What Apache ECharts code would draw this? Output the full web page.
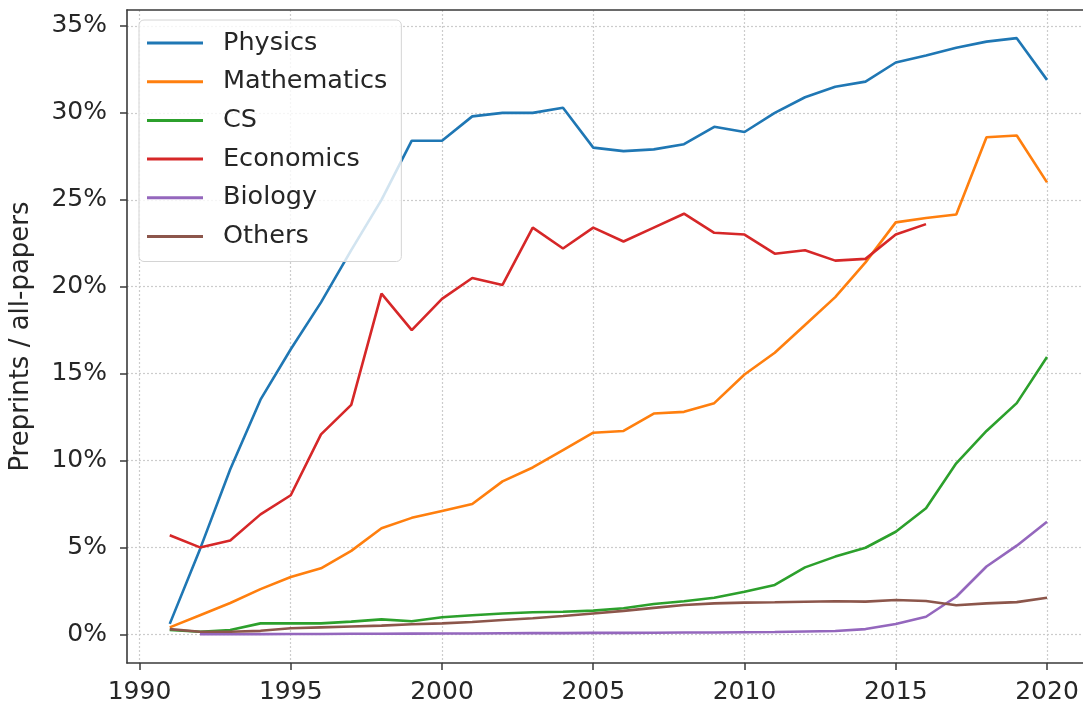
<!DOCTYPE html>
<html>
<head>
<meta charset="utf-8">
<script src="https://cdn.jsdelivr.net/npm/echarts@6/dist/echarts.min.js"></script>
<style>
  html, body { margin: 0; padding: 0; background: #fff; }
  #chart { width: 1083px; height: 706px; }
</style>
</head>
<body>
<div id="chart"></div>
<script>
// years 1991..2020
var years = [];
for (var y = 1991; y <= 2020; y++) years.push(y);

// share of preprints, percent
var physics = [0.6, 4.9, 9.5, 13.5, 16.4, 19.1, 22.1, 25.0, 28.4, 28.4, 29.8, 30.0, 30.0, 30.3, 28.0, 27.8, 27.9, 28.2, 29.2, 28.9, 30.0, 30.9, 31.5, 31.8, 32.9, 33.3, 33.75, 34.1, 34.3, 31.9];
var mathematics = [0.4, 1.1, 1.8, 2.6, 3.3, 3.8, 4.8, 6.1, 6.7, 7.1, 7.5, 8.8, 9.6, 10.6, 11.6, 11.7, 12.7, 12.8, 13.3, 14.95, 16.2, 17.8, 19.4, 21.4, 23.7, 23.95, 24.15, 28.6, 28.7, 26.0];
var cs = [0.25, 0.15, 0.25, 0.63, 0.63, 0.63, 0.73, 0.86, 0.75, 0.98, 1.1, 1.2, 1.27, 1.3, 1.36, 1.5, 1.74, 1.9, 2.1, 2.45, 2.84, 3.85, 4.47, 4.98, 5.9, 7.25, 9.84, 11.7, 13.3, 15.95];
var economics = [5.7, 5.0, 5.4, 6.9, 8.0, 11.5, 13.2, 19.6, 17.5, 19.3, 20.5, 20.1, 23.4, 22.2, 23.4, 22.6, 23.4, 24.2, 23.1, 23.0, 21.9, 22.1, 21.5, 21.6, 23.0, 23.6, null, null, null, null];
var biology = [null, 0.0, 0.0, 0.01, 0.02, 0.02, 0.03, 0.03, 0.04, 0.05, 0.05, 0.06, 0.07, 0.07, 0.08, 0.08, 0.09, 0.1, 0.1, 0.12, 0.13, 0.16, 0.19, 0.3, 0.59, 1.01, 2.16, 3.9, 5.1, 6.48];
var others = [0.3, 0.15, 0.15, 0.2, 0.35, 0.4, 0.45, 0.5, 0.58, 0.63, 0.71, 0.82, 0.92, 1.05, 1.2, 1.35, 1.52, 1.69, 1.78, 1.82, 1.84, 1.87, 1.9, 1.88, 1.97, 1.92, 1.67, 1.78, 1.85, 2.1];

var names = ['Physics', 'Mathematics', 'CS', 'Economics', 'Biology', 'Others'];
var values = [physics, mathematics, cs, economics, biology, others];
var colors = ['#1f77b4', '#ff7f0e', '#2ca02c', '#d62728', '#9467bd', '#8c564b'];
var xTicks = [1990, 1995, 2000, 2005, 2010, 2015, 2020];
var yTicks = [0, 5, 10, 15, 20, 25, 30, 35];

var font = 'DejaVu Sans';
var spine = '#3a3a3a';
var series = [];
for (var i = 0; i < names.length; i++) {
	var pts = [];
	for (var j = 0; j < years.length; j++) {
		if (values[i][j] != null) pts.push([years[j], values[i][j]]);
	}
	series.push({
		name: names[i],
		type: 'line',
		data: pts,
		symbol: 'none',
		lineStyle: { width: 2.6, color: colors[i] },
		itemStyle: { color: colors[i] }
	});
}

var chart = echarts.init(document.getElementById('chart'));
chart.setOption({
	animation: false,
	color: colors,
	grid: { left: 126, top: 10, bottom: 43, right: 0 },
	legend: {
		orient: 'vertical',
		left: 139, top: 20,
		padding: [8, 14, 10, 8],
		icon: 'rect',
		itemWidth: 56, itemHeight: 3, itemGap: 8.7,
		backgroundColor: 'rgba(255,255,255,0.8)',
		borderColor: '#d4d4d4', borderWidth: 1, borderRadius: 5,
		textStyle: { fontFamily: font, fontSize: 25.5, lineHeight: 30, color: '#262626', padding: [0, 0, 0, 15] },
		data: names
	},
	xAxis: [{
		type: 'value',
		min: 1989.587, max: 2021.19,
		axisLine: { show: true, onZero: false, lineStyle: { color: spine, width: 1.6 } },
		axisTick: { show: true, length: 7, customValues: xTicks, lineStyle: { color: spine, width: 1.5 } },
		axisLabel: {
			customValues: xTicks, fontFamily: font, fontSize: 25, color: '#262626', margin: 17,
			formatter: function (v) { return String(v); }
		},
		splitLine: { show: true, lineStyle: { color: '#cccccc', type: [2, 2], width: 1.2 } }
	}, {
		// top spine
		type: 'value', position: 'top',
		min: 1989.587, max: 2021.19,
		axisLine: { show: true, onZero: false, lineStyle: { color: spine, width: 1.6 } },
		axisTick: { show: false }, axisLabel: { show: false }, splitLine: { show: false }
	}],
	yAxis: {
		type: 'value',
		min: -1.651, max: 35.92,
		name: 'Preprints / all-papers',
		nameLocation: 'middle',
		nameGap: 93,
		nameTextStyle: { fontFamily: font, fontSize: 26, color: '#262626' },
		axisLine: { show: true, onZero: false, lineStyle: { color: spine, width: 1.6 } },
		axisTick: { show: true, length: 7, customValues: yTicks, lineStyle: { color: spine, width: 1.5 } },
		axisLabel: { customValues: yTicks, formatter: '{value}%', fontFamily: font, fontSize: 25, color: '#262626', margin: 20 },
		splitLine: { show: true, lineStyle: { color: '#cccccc', type: [2, 2], width: 1.2 } }
	},
	series: series
});
</script>
</body>
</html>
